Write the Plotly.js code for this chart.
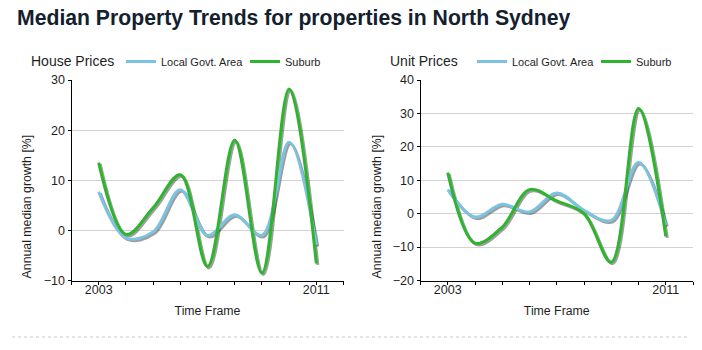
<!DOCTYPE html>
<html>
<head>
<meta charset="utf-8">
<script src="https://cdn.plot.ly/plotly-3.0.1.min.js"></script>
<style>
html,body{margin:0;padding:0;background:#fff;}
#chart{width:702px;height:350px;}
</style>
</head>
<body>
<div id="chart"></div>
<script>
// ---- data ----
var years = [2003, 2004, 2005, 2006, 2007, 2008, 2009, 2010, 2011];
var houseLGA    = [7.7, -1.5, -0.3, 8.1, -1.0, 3.1, -1.0, 17.6, -2.9];
var houseSuburb = [13.5, -0.8, 4.5, 11.1, -7.2, 18.0, -8.5, 28.2, -6.6];
var unitLGA     = [7.2, -1.0, 2.8, 0.5, 6.2, 1.0, -2.0, 15.3, -3.4];
var unitSuburb  = [12.3, -8.8, -4.0, 7.2, 3.8, 0.0, -14.5, 31.5, -6.8];
var seriesNames = ['Local Govt. Area', 'Suburb'];
var tickYears = [2002, 2003, 2004, 2005, 2006, 2007, 2008, 2009, 2010, 2011, 2012];
var tickText  = ['', '2003', '', '', '', '', '', '', '', '2011', ''];
var chartTitle = 'Median Property Trends for properties in North Sydney';
var panelTitles = ['House Prices', 'Unit Prices'];
var xTitle = 'Time Frame';
var yTitle = 'Annual median growth [%]';

// ---- style ----
var BLUE = '#7cc2e2', GREEN = '#2db52d', SHADOW = 'rgba(60,60,60,0.5)';
var FONT = 'Liberation Sans, Arial, sans-serif';
var TXT = '#1e1e1e';

function line(x, y, color, name, xa, ya, legend, show) {
  return {x: x, y: y, type: 'scatter', mode: 'lines', name: name,
    xaxis: xa, yaxis: ya, legend: legend, showlegend: show,
    hoverinfo: 'skip',
    line: {color: color, width: 3, shape: 'spline', smoothing: 1}};
}

var traces = [
  // shadows on hidden base axes (slightly shifted ranges), drawn below
  line(years, houseLGA, SHADOW, 's', 'x', 'y', 'legend', false),
  line(years, houseSuburb, SHADOW, 's', 'x', 'y', 'legend', false),
  line(years, unitLGA, SHADOW, 's', 'x2', 'y2', 'legend', false),
  line(years, unitSuburb, SHADOW, 's', 'x2', 'y2', 'legend', false),
  // main lines on the visible overlay axes
  line(years, houseLGA, BLUE, seriesNames[0], 'x3', 'y3', 'legend', true),
  line(years, houseSuburb, GREEN, seriesNames[1], 'x3', 'y3', 'legend', true),
  line(years, unitLGA, BLUE, seriesNames[0], 'x4', 'y4', 'legend2', true),
  line(years, unitSuburb, GREEN, seriesNames[1], 'x4', 'y4', 'legend2', true)
];

var W = 702, H = 350;
var dx1 = [71.5 / W, 343.5 / W], dx2 = [420.5 / W, 693 / W];
var dy = [1 - 280.5 / H, 1 - 80 / H];

function xaxis(domain, anchor, overlay) {
  return {domain: domain, anchor: anchor, overlaying: overlay, range: [2002, 2012],
    tickmode: 'array', tickvals: tickYears, ticktext: tickText,
    ticks: 'outside', ticklen: 3, tickcolor: '#000', tickwidth: 1,
    ticklabelstandoff: -6,
    showline: true, linecolor: '#000', linewidth: 1, showgrid: false, zeroline: false,
    tickfont: {family: FONT, size: 12.5, color: TXT},
    title: {text: xTitle, font: {family: FONT, size: 12.3, color: TXT}, standoff: 10},
    fixedrange: true};
}
function yaxis(domain, anchor, overlay, range, dtick) {
  return {domain: domain, anchor: anchor, overlaying: overlay, range: range, dtick: dtick,
    ticks: 'outside', ticklen: 3, tickcolor: '#000', tickwidth: 1,
    showline: true, linecolor: '#000', linewidth: 1,
    showgrid: true, gridcolor: '#d2d2d2', gridwidth: 1, zeroline: false,
    tickfont: {family: FONT, size: 12.5, color: TXT},
    fixedrange: true};
}
function hiddenX(domain, anchor, shift) {
  return {domain: domain, anchor: anchor, range: [2002 - shift, 2012 - shift], visible: false, fixedrange: true};
}
function hiddenY(domain, anchor, range) {
  return {domain: domain, anchor: anchor, range: range, visible: false, fixedrange: true};
}

var layout = {
  width: W, height: H,
  margin: {l: 0, r: 0, t: 0, b: 0, autoexpand: false},
  paper_bgcolor: '#fff', plot_bgcolor: 'rgba(0,0,0,0)',
  font: {family: FONT},
  // hidden base axes for the shadows (shifted ~1.5px right and down)
  xaxis: hiddenX(dx1, 'y', 0.055),
  yaxis: hiddenY(dy, 'x', [-9.7, 30.3]),
  xaxis2: hiddenX(dx2, 'y2', 0.055),
  yaxis2: hiddenY(dy, 'x2', [-19.55, 40.45]),
  // visible axes
  xaxis3: xaxis(dx1, 'y3', 'x'),
  yaxis3: yaxis(dy, 'x3', 'y', [-10, 30], 10),
  xaxis4: xaxis(dx2, 'y4', 'x2'),
  yaxis4: yaxis(dy, 'x4', 'y2', [-20, 40], 10),
  legend: {orientation: 'h', x: 121 / W, y: 1 - 47 / H, xanchor: 'left', yanchor: 'top',
    font: {family: FONT, size: 11, color: TXT}, bgcolor: 'rgba(0,0,0,0)',
    itemwidth: 30, entrywidth: 79, tracegroupgap: 0},
  legend2: {orientation: 'h', x: 472 / W, y: 1 - 47 / H, xanchor: 'left', yanchor: 'top',
    font: {family: FONT, size: 11, color: TXT}, bgcolor: 'rgba(0,0,0,0)',
    itemwidth: 30, entrywidth: 79, tracegroupgap: 0},
  annotations: [
    {text: '<b>' + chartTitle + '</b>', xref: 'paper', yref: 'paper', x: 15 / W, y: 1 - 18 / H,
      xanchor: 'left', yanchor: 'middle', showarrow: false,
      font: {family: FONT, size: 21.2, color: '#13202e'}},
    {text: panelTitles[0], xref: 'paper', yref: 'paper', x: 29 / W, y: 1 - 61 / H,
      xanchor: 'left', yanchor: 'middle', showarrow: false,
      font: {family: FONT, size: 14, color: TXT}},
    {text: panelTitles[1], xref: 'paper', yref: 'paper', x: 388 / W, y: 1 - 61 / H,
      xanchor: 'left', yanchor: 'middle', showarrow: false,
      font: {family: FONT, size: 14, color: TXT}},
    {text: yTitle, xref: 'paper', yref: 'paper', x: 26.7 / W, y: 1 - 206.7 / H, textangle: -90,
      xanchor: 'center', yanchor: 'middle', showarrow: false,
      font: {family: FONT, size: 12.3, color: TXT}},
    {text: yTitle, xref: 'paper', yref: 'paper', x: 376.7 / W, y: 1 - 206.7 / H, textangle: -90,
      xanchor: 'center', yanchor: 'middle', showarrow: false,
      font: {family: FONT, size: 12.3, color: TXT}}
  ],
  shapes: [
    {type: 'line', xref: 'paper', yref: 'paper', x0: 12 / W, x1: 690 / W, y0: 1 - 337 / H, y1: 1 - 337 / H,
      line: {color: '#c8c8c8', width: 1, dash: 'dot'}}
  ]
};

Plotly.newPlot('chart', traces, layout, {displayModeBar: false, staticPlot: true});
</script>
</body>
</html>
